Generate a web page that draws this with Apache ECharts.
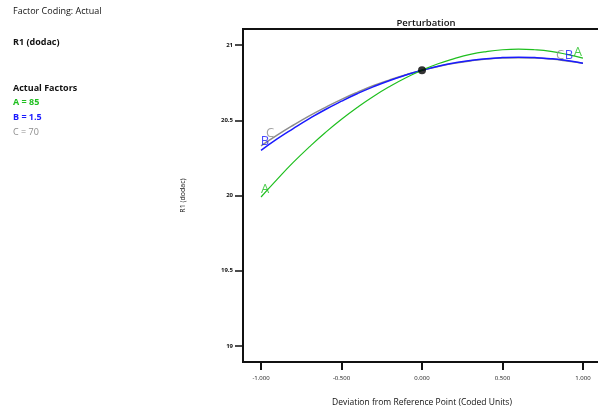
<!DOCTYPE html>
<html>
<head>
<meta charset="utf-8">
<script src="https://cdn.jsdelivr.net/npm/echarts@6/dist/echarts.min.js"></script>
<style>html,body{margin:0;padding:0;background:#fff}#c{width:598px;height:411px}</style>
</head>
<body>
<div id="c"></div>
<script>
// Deviation from reference point (coded units)
var xs = [-1.0, -0.9, -0.8, -0.7, -0.6, -0.5, -0.4, -0.3, -0.2, -0.1, 0.0,
          0.1, 0.2, 0.3, 0.4, 0.5, 0.6, 0.7, 0.8, 0.9, 1.0];
// R1 (dodac) perturbation traces
var seriesA = [19.990, 20.107, 20.220, 20.323, 20.419, 20.507, 20.587, 20.660, 20.725, 20.783, 20.833,
               20.876, 20.910, 20.938, 20.957, 20.969, 20.973, 20.969, 20.958, 20.938, 20.913];
var seriesB = [20.300, 20.376, 20.445, 20.511, 20.572, 20.627, 20.678, 20.724, 20.765, 20.801, 20.833,
               20.860, 20.881, 20.898, 20.910, 20.917, 20.920, 20.917, 20.910, 20.898, 20.880];
var seriesC = [20.330, 20.401, 20.467, 20.529, 20.586, 20.639, 20.687, 20.731, 20.769, 20.803, 20.833,
               20.858, 20.879, 20.895, 20.907, 20.914, 20.916, 20.914, 20.907, 20.895, 20.880];
var refPoint = [0.0, 20.833];
var xTicks = [-1.0, -0.5, 0.0, 0.5, 1.0];
var yTicks = [19, 19.5, 20, 20.5, 21];
var factorNames = ['A', 'B', 'C'];
var factorValues = ['85', '1.5', '70'];

var colors = {A: '#1fbf1f', B: '#1a1aff', C: '#8c8c8c'};
var F = '"Open Sans", "Noto Sans", sans-serif';

var labelOffsets = {
  A: [[4, -8], [-5, -6]],
  B: [[4, -9], [-14, -8]],
  C: [[9, -13], [-23, -8]]
};
var seriesData = {A: seriesA, B: seriesB, C: seriesC};

function lineSeries(name, w) {
  return {
    name: name, type: 'line', smooth: true,
    data: seriesData[name].map(function (y, i) { return [xs[i], y]; }),
    showSymbol: false, symbol: 'none',
    lineStyle: {color: colors[name], width: w},
    itemStyle: {color: colors[name]},
    silent: true, z: 3
  };
}

function labelSeries(name) {
  var ys = seriesData[name];
  var last = ys.length - 1;
  return {
    type: 'scatter', silent: true, z: 6, symbolSize: 0.1,
    itemStyle: {color: colors[name]},
    data: [0, last].map(function (i, k) {
      return {
        value: [xs[i], ys[i]],
        label: {show: true, formatter: name, position: 'inside',
          offset: labelOffsets[name][k], color: colors[name], fontSize: 13, fontFamily: F}
      };
    })
  };
}

var chart = echarts.init(document.getElementById('c'), null, {renderer: 'canvas'});
var leftTexts = [
  {type: 'text', left: 13, top: 7, style: {text: 'Factor Coding: Actual', font: '9px ' + F, fill: '#111'}},
  {type: 'text', left: 13, top: 38, style: {text: 'R1 (dodac)', font: 'bold 9px ' + F, fill: '#111'}},
  {type: 'text', left: 13, top: 84, style: {text: 'Actual Factors', font: 'bold 9px ' + F, fill: '#111'}}
];
factorNames.forEach(function (n, i) {
  leftTexts.push({type: 'text', left: 13, top: 98 + i * 15,
    style: {text: n + ' = ' + factorValues[i], font: (n === 'C' ? '' : 'bold ') + '9px ' + F, fill: colors[n]}});
});

chart.setOption({
  animation: false,
  backgroundColor: '#fff',
  title: {text: 'Perturbation', left: 421, textAlign: 'center', top: 13,
    textStyle: {fontSize: 9.5, fontWeight: 600, fontFamily: F, color: '#111'}},
  graphic: leftTexts,
  grid: {left: 243, width: 358, top: 29, height: 333, outerBoundsMode: 'none', containLabel: false,
    show: true, borderColor: '#111', borderWidth: 2, backgroundColor: 'transparent'},
  xAxis: {
    type: 'value', min: -1.112, max: 1.112,
    name: 'Deviation from Reference Point (Coded Units)', nameLocation: 'middle', nameGap: 36,
    nameTextStyle: {fontSize: 8.5, fontFamily: F, color: '#111'},
    axisLine: {show: true, onZero: false, lineStyle: {color: '#111', width: 2}},
    axisTick: {show: true, length: 8, customValues: xTicks, lineStyle: {color: '#111', width: 2}},
    axisLabel: {customValues: xTicks, fontSize: 6, fontFamily: F, color: '#111', margin: 13,
      formatter: function (v) { return v.toFixed(3); }},
    splitLine: {show: false}
  },
  yAxis: {
    type: 'value', min: 18.893, max: 21.107,
    name: 'R1 (dodac)', nameLocation: 'middle', nameGap: 57, nameRotate: 90,
    nameTextStyle: {fontSize: 7, fontFamily: F, color: '#111'},
    axisLine: {show: true, onZero: false, lineStyle: {color: '#111', width: 2}},
    axisTick: {show: true, length: 8, customValues: yTicks, lineStyle: {color: '#111', width: 1.5}},
    axisLabel: {customValues: yTicks, fontSize: 6, fontFamily: F, color: '#111', fontWeight: 'bold', margin: 10},
    splitLine: {show: false}
  },
  series: [
    lineSeries('C', 1.5),
    lineSeries('B', 1.5),
    lineSeries('A', 1.2),
    labelSeries('C'),
    labelSeries('B'),
    labelSeries('A'),
    {type: 'scatter', data: [refPoint], symbolSize: 8, itemStyle: {color: '#000'}, z: 5, silent: true}
  ]
});
</script>
</body>
</html>
